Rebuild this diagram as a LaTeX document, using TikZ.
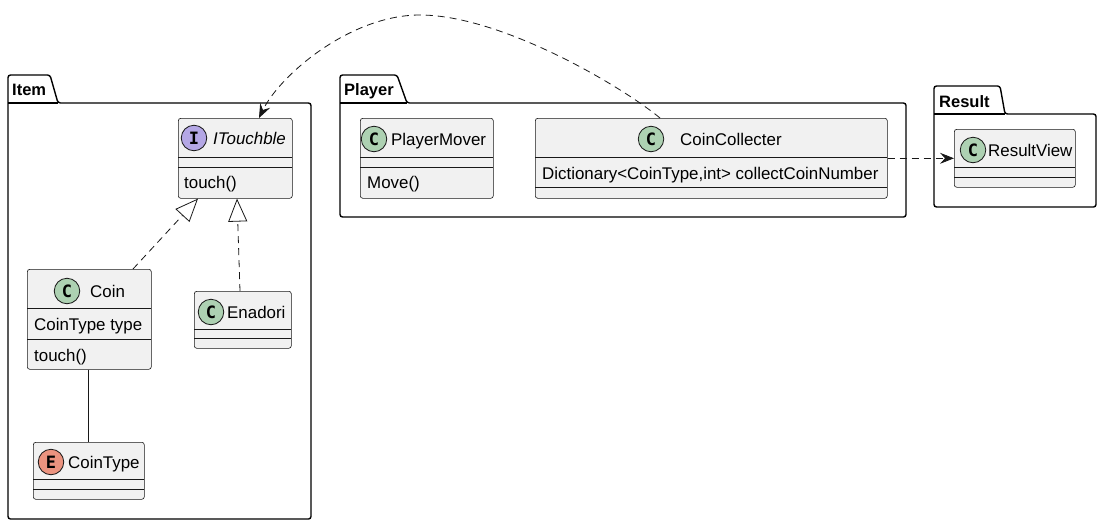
\documentclass[tikz,border=0pt]{standalone}
\usepackage{fontspec}
\setmainfont{Liberation Sans}
\newfontfamily\spotfont{DejaVu Sans Mono}
\usetikzlibrary{arrows.meta}
\definecolor{cbg}{HTML}{F1F1F1}
\definecolor{cln}{HTML}{181818}
\definecolor{cgreen}{HTML}{ADD1B2}
\definecolor{cviolet}{HTML}{B4A7E5}
\definecolor{csalmon}{HTML}{EB937F}
\begin{document}
\begin{tikzpicture}[x=1pt,y=-1pt,
  clsbox/.style={draw=cln, fill=cbg, line width=0.6pt, rounded corners=2.5pt, inner sep=0pt, anchor=north west},
  sepline/.style={draw=cln, line width=0.6pt},
  spot/.style={circle, draw=cln, line width=0.8pt, minimum size=25.5pt, inner sep=0pt, font=\spotfont\fontsize{17}{17}\selectfont\bfseries},
  lbl/.style={anchor=base west, inner sep=0pt, font=\fontsize{16.9}{18}\selectfont, text=black},
  pkg/.style={draw=black, line width=1.4pt, rounded corners=2.5pt, fill=white},
  pkglbl/.style={anchor=base west, inner sep=0pt, font=\fontsize{16.5}{18}\selectfont\bfseries},
  conn/.style={draw=cln, line width=0.8pt},
  dashseven/.style={dash pattern=on 7pt off 5pt},
  realize/.style={conn, dashseven, -{Triangle[open, length=23pt, width=19pt, line width=0.8pt]}},
  depend/.style={conn, dashseven, -{Stealth[length=14pt, width=11pt, inset=5pt]}},
]
\useasboundingbox[fill=white] (0,0) rectangle (1102,525);

% ---------- packages ----------
% Item
\draw[pkg] (8,300) -- (8,75) -- (50,75) -- (58,103) -- (311,103) -- (311,519) -- (8,519) -- cycle;
\draw[pkg] (8,103) -- (58,103);
\node[pkglbl] (itemlbl) at (12,95) {Item};
% Player
\draw[pkg] (340,160) -- (340,75) -- (397,75) -- (407,103) -- (906,103) -- (906,217) -- (340,217) -- cycle;
\draw[pkg] (340,103) -- (407,103);
\node[pkglbl] (playerlbl) at (344,95) {Player};
% Result
\draw[pkg] (934,160) -- (934,86) -- (1000,86) -- (1005,114) -- (1096,114) -- (1096,207) -- (934,207) -- cycle;
\draw[pkg] (934,114) -- (1005,114);
\node[pkglbl] (resultlbl) at (939,107) {Result};

% ---------- classes ----------
% ITouchble
\node[clsbox, minimum width=114pt, minimum height=80pt] (it) at (178,118) {};
\draw[sepline] (178,157) -- (292,157);
\draw[sepline] (178,167) -- (292,167);
\node[spot, fill=cviolet] (itspot) at (194,138) {I};
\node[lbl, font=\fontsize{16.9}{18}\selectfont\itshape] (itname) at (213,144) {ITouchble};
\node[lbl] (itm) at (184,188) {touch()};

% Coin
\node[clsbox, minimum width=124pt, minimum height=100pt] (coin) at (27,269) {};
\draw[sepline] (27,308) -- (151,308);
\draw[sepline] (27,339) -- (151,339);
\node[spot, fill=cgreen] (coinspot) at (67,291) {C};
\node[lbl] (coinname) at (90,297) {Coin};
\node[lbl] (coinf) at (34,330) {CoinType type};
\node[lbl] (coinm) at (34,361) {touch()};

% Enadori
\node[clsbox, minimum width=97pt, minimum height=57pt] (en) at (194,291) {};
\draw[sepline] (194,329) -- (291,329);
\draw[sepline] (194,338) -- (291,338);
\node[spot, fill=cgreen] (enspot) at (211,312) {C};
\node[lbl] (enname) at (227,318) {Enadori};

% CoinType
\node[clsbox, minimum width=111pt, minimum height=57pt] (ct) at (33,442) {};
\draw[sepline] (33,479) -- (144,479);
\draw[sepline] (33,489) -- (144,489);
\node[spot, fill=csalmon] (ctspot) at (51,462) {E};
\node[lbl] (ctname) at (68,468) {CoinType};

% PlayerMover
\node[clsbox, minimum width=133pt, minimum height=80pt] (pm) at (360,118) {};
\draw[sepline] (360,157) -- (493,157);
\draw[sepline] (360,167) -- (493,167);
\node[spot, fill=cgreen] (pmspot) at (374,139) {C};
\node[lbl] (pmname) at (391,145) {PlayerMover};
\node[lbl] (pmm) at (367,188) {Move()};

% CoinCollecter
\node[clsbox, minimum width=352pt, minimum height=80pt] (cc) at (535,118) {};
\draw[sepline] (535,157) -- (887,157);
\draw[sepline] (535,187) -- (887,187);
\node[spot, fill=cgreen] (ccspot) at (651,139) {C};
\node[lbl] (ccname) at (680,145) {CoinCollecter};
\node[lbl] (ccf) at (542,179) {Dictionary<CoinType,int> collectCoinNumber};

% ResultView
\node[clsbox, minimum width=121pt, minimum height=58pt] (rv) at (954,129) {};
\draw[sepline] (954,167) -- (1075,167);
\draw[sepline] (954,177) -- (1075,177);
\node[spot, fill=cgreen] (rvspot) at (973,150) {C};
\node[lbl] (rvname) at (988,156) {ResultView};

% ---------- connectors ----------
\draw[realize] ([xshift=106pt]coin.north west) -- ([xshift=20pt]it.south west);
\draw[realize] ([xshift=46pt]en.north west) -- ([xshift=59pt]it.south west);
\draw[conn] ([xshift=61pt]coin.south west) -- ([xshift=55pt]ct.north west);
\draw[depend] (cc.east |- rv.west) -- (rv.west);
\draw[depend] ([xshift=125pt]cc.north west) .. controls (620,85) and (500,15) .. (420,15)
   .. controls (350,15) and (280,75) .. ([xshift=81pt]it.north west);
\end{tikzpicture}
\end{document}
